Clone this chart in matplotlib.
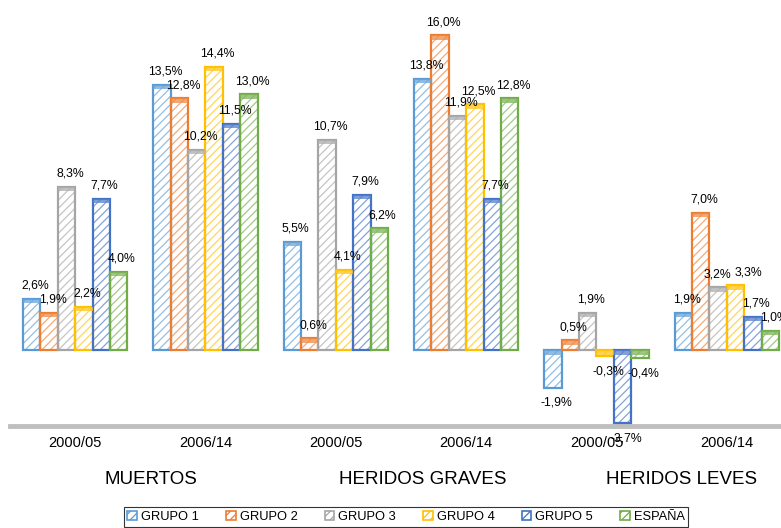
import matplotlib
matplotlib.use("Agg")
import matplotlib.pyplot as plt
import matplotlib.transforms as mtransforms
from matplotlib.patches import Patch
import numpy as np

plt.rcParams['font.family'] = ['Liberation Sans', 'DejaVu Sans']
plt.rcParams['hatch.linewidth'] = 0.9

periods = ["2000/05", "2006/14", "2000/05", "2006/14", "2000/05", "2006/14"]
categories = ["MUERTOS", "HERIDOS GRAVES", "HERIDOS LEVES"]
series_names = ["GRUPO 1", "GRUPO 2", "GRUPO 3", "GRUPO 4", "GRUPO 5", "ESPAÑA"]

grupo1 = [2.6, 13.5, 5.5, 13.8, -1.9, 1.9]
grupo2 = [1.9, 12.8, 0.6, 16.0, 0.5, 7.0]
grupo3 = [8.3, 10.2, 10.7, 11.9, 1.9, 3.2]
grupo4 = [2.2, 14.4, 4.1, 12.5, -0.3, 3.3]
grupo5 = [7.7, 11.5, 7.9, 7.7, -3.7, 1.7]
espana = [4.0, 13.0, 6.2, 12.8, -0.4, 1.0]

series = [grupo1, grupo2, grupo3, grupo4, grupo5, espana]
colors = ["#5B9BD5", "#ED7D31", "#A5A5A5", "#FFC000", "#4472C4", "#70AD47"]

# label nudges (series index, period index) -> extra x offset in points (Excel collision avoidance)
label_nudge = {(2, 5): -3.0, (3, 5): 7.0}


def lighten(c, f):
    rgb = np.array(matplotlib.colors.to_rgb(c))
    return tuple(rgb + (1 - rgb) * f)


fig = plt.figure(figsize=(7.81, 5.28), dpi=100)
W, H = 781, 528
ax_left, ax_right = 10, 792
ax_bottom, ax_top = 426, 0
ax = fig.add_axes([ax_left / W, 1 - ax_bottom / H, (ax_right - ax_left) / W, (ax_bottom - ax_top) / H])

x = np.arange(len(periods))
n = len(series)
group_w = 0.8
bw = group_w / n

for i, (vals, col) in enumerate(zip(series, colors)):
    pos = x - group_w / 2 + bw * (i + 0.5)
    vals = np.array(vals)
    # hatched fill
    ax.bar(pos, vals, bw, facecolor="white", edgecolor=lighten(col, 0.35),
           hatch="////", linewidth=0, zorder=2)
    # outline
    ax.bar(pos, vals, bw, fill=False, edgecolor=col, linewidth=1.6, zorder=3)
    # top cap
    tops = np.maximum(vals, 0)
    ax.bar(pos, np.full_like(vals, 0.22), bw, bottom=tops - 0.22,
           color=lighten(col, 0.1), alpha=0.75, linewidth=0, zorder=4)
    for j, (p, v) in enumerate(zip(pos, vals)):
        lbl = f"{v:.1f}%".replace(".", ",")
        dx = 2.5 + label_nudge.get((i, j), 0.0)
        dy = 9.5 if v >= 0 else -11
        ax.annotate(lbl, (p, v), xytext=(dx, dy), textcoords="offset points",
                    ha="center", va="center", fontsize=8.8, annotation_clip=False, zorder=5)

ax.set_xlim(-0.5, len(periods) - 0.5)
ax.set_ylim(-3.85, 17.8)
for s in ["top", "right", "left"]:
    ax.spines[s].set_visible(False)
ax.spines["bottom"].set_color("#BFBFBF")
ax.spines["bottom"].set_linewidth(3.5)
ax.spines["bottom"].set_position(("data", -3.85))
ax.set_yticks([])
ax.set_xticks(x)
ax.set_xticklabels(periods, fontsize=10.5)
ax.tick_params(axis="x", length=0, pad=7)

cat_pos = [0.58, 2.67, 4.65]
trans = mtransforms.blended_transform_factory(ax.transData, fig.transFigure)
for c, p in zip(categories, cat_pos):
    ax.text(p, 1 - 480 / H, c, transform=trans, ha="center", va="center", fontsize=13.5)

handles = [Patch(facecolor="white", edgecolor=c, hatch="////", linewidth=1.2) for c in colors]
leg = fig.legend(handles, series_names, loc="lower center", bbox_to_anchor=(406 / W, 0.0),
                 ncol=6, fontsize=9.3, frameon=True, fancybox=False, handlelength=0.75,
                 handleheight=0.75, handletextpad=0.3, columnspacing=2.1,
                 borderpad=0.3, borderaxespad=0.1)
leg.get_frame().set_edgecolor("black")
leg.get_frame().set_linewidth(0.8)

fig.savefig("out.png", dpi=100)
